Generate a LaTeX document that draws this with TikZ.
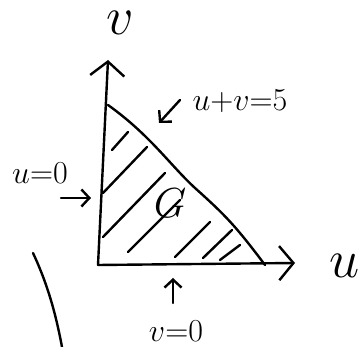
\documentclass[tikz,border=0pt]{standalone}
\usepackage{fix-cm}
\usepackage{amsmath,amssymb}
\usetikzlibrary{arrows.meta}

\begin{document}
\begin{tikzpicture}[
  x=1pt, y=-1pt,
  pen/.style={line width=2.4pt, line cap=round, line join=round},
  axis/.style={pen, -{Straight Barb[length=5mm, width=12mm, line width=2.4pt]}},
  arrow/.style={pen, -{Straight Barb[length=2.8mm, width=6mm, line width=2.4pt]}},
  lab/.style={inner sep=0pt, font=\fontsize{32}{34}\selectfont},
  big/.style={inner sep=0pt, font=\fontsize{54}{56}\selectfont}
]
\useasboundingbox (0,0) rectangle (362,347);

% axes and region
\coordinate (O) at (98,265);
\coordinate (vtop) at (108,60);
\coordinate (utip) at (295,263);
\coordinate (A) at (108,105);
\coordinate (B) at (265,265);
\draw[axis] (O) -- (vtop);
\draw[axis] (O) -- (utip);
\draw[pen] (A) .. controls (150,135) and (170,165) .. (195,188)
               .. controls (225,215) and (235,225) .. (B);

% hatching
\foreach \xa/\ya/\xb/\yb in {112/150/128/132, 103/193/147/147, 103/237/165/173,
                   128/252/180/200, 175/257/210/222, 203/258/232/230,
                   220/260/240/245}
  \draw[pen] (\xa,\ya) -- (\xb,\yb);

% labels
\node[big] (vlab) at (120,23) {$v$};
\node[big] (ulab) at (345,266) {$u$};
\node[lab] (eqlab) at (240,101) {$u{+}v{=}5$};
\node[lab] (u0lab) at (40,173) {$u{=}0$};
\node[lab] (v0lab) at (176,331) {$v{=}0$};
\node[lab, font=\fontsize{42}{44}\selectfont] (glab) at (170,203) {$G$};

\coordinate (hyp) at (159,123);
\coordinate (vaxis) at (91,198);
\coordinate (uaxis) at (173,278);
\draw[arrow] ([shift={(21,-23)}]hyp) -- (hyp);
\draw[arrow] ([shift={(-30,0)}]vaxis) -- (vaxis);
\draw[arrow] ([shift={(0,25)}]uaxis) -- (uaxis);

% stray stroke
\draw[pen] (33,253) .. controls (48,285) and (56,315) .. (62,347);
\end{tikzpicture}
\end{document}
